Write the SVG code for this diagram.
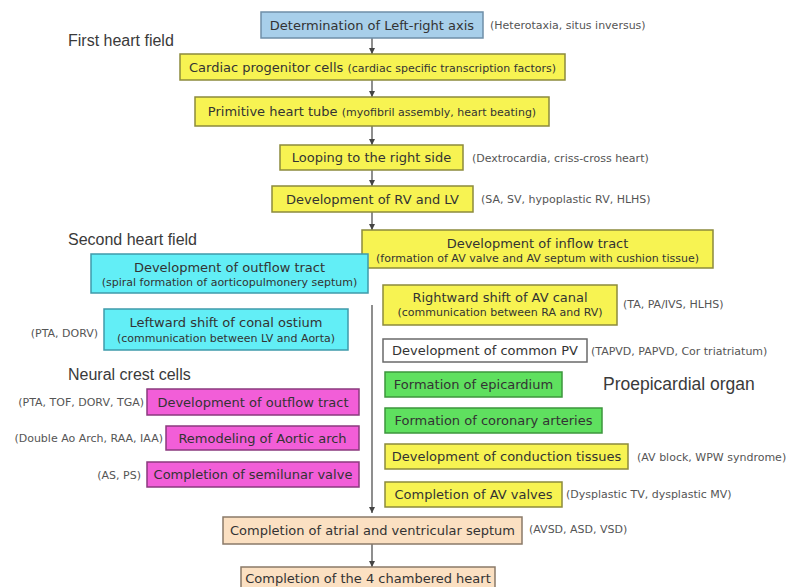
<svg xmlns="http://www.w3.org/2000/svg" width="788" height="587" viewBox="0 0 788 587">
<defs>
<style>
text{font-family:"DejaVu Sans","Liberation Sans",sans-serif;fill:#333}
.b{stroke-width:1.5}
.blue{fill:#a8cfea;stroke:#6f8fa8}
.yel{fill:#f7f352;stroke:#8c8a3c}
.cyan{fill:#62eef6;stroke:#3f9aaa}
.mag{fill:#f25ed8;stroke:#8a3a7e}
.grn{fill:#5fe05f;stroke:#3c963c}
.wht{fill:#ffffff;stroke:#6a6a6a}
.pch{fill:#fbe0c2;stroke:#8a7a68}
.m{font-size:13px;text-anchor:middle}
.s{font-size:11px}
.sm{font-size:11px}
.side{font-size:11px;fill:#555}
.h{font-family:"Liberation Sans",Arial,sans-serif;font-size:16px;fill:#3a3a3a}
.c{stroke:#444;stroke-width:1.2;fill:none}
</style>
<marker id="ah" markerUnits="userSpaceOnUse" markerWidth="6" markerHeight="6" refX="6" refY="3" orient="auto">
<path d="M0,0 L6,3 L0,6 z" fill="#444"/>
</marker>
</defs>
<rect width="788" height="587" fill="#ffffff"/>

<g id="labels">
<text class="h" x="68" y="46">First heart field</text>
<text class="h" x="68" y="245">Second heart field</text>
<text class="h" x="68" y="380">Neural crest cells</text>
<text class="h" x="603" y="390" style="font-size:17.5px">Proepicardial organ</text>
</g>

<g id="connectors">
<line class="c" x1="372" y1="38" x2="372" y2="54" marker-end="url(#ah)"/>
<line class="c" x1="372" y1="80" x2="372" y2="97" marker-end="url(#ah)"/>
<line class="c" x1="372" y1="126" x2="372" y2="145" marker-end="url(#ah)"/>
<line class="c" x1="372" y1="170" x2="372" y2="186" marker-end="url(#ah)"/>
<line class="c" x1="372" y1="212" x2="372" y2="230" marker-end="url(#ah)"/>
<line class="c" x1="372" y1="305" x2="372" y2="513" marker-end="url(#ah)"/>
<line class="c" x1="372" y1="544" x2="372" y2="567" marker-end="url(#ah)"/>
</g>

<g id="n-lr-axis">
<rect class="b blue" x="261" y="12" width="222" height="26"/>
<text class="m" x="372" y="29.5">Determination of Left-right axis</text>
<text class="side" x="490" y="29">(Heterotaxia, situs inversus)</text>
</g>

<g id="n-progenitor">
<rect class="b yel" x="180" y="54" width="385" height="26"/>
<text class="m" x="372.5" y="71.5">Cardiac progenitor cells <tspan class="sm">(cardiac specific transcription factors)</tspan></text>
</g>

<g id="n-tube">
<rect class="b yel" x="195" y="97" width="354" height="29"/>
<text class="m" x="372" y="116">Primitive heart tube <tspan class="sm">(myofibril assembly, heart beating)</tspan></text>
</g>

<g id="n-looping">
<rect class="b yel" x="280" y="145" width="183" height="25"/>
<text class="m" x="371.5" y="162">Looping to the right side</text>
<text class="side" x="472" y="161.5">(Dextrocardia, criss-cross heart)</text>
</g>

<g id="n-rvlv">
<rect class="b yel" x="272" y="186" width="201" height="26"/>
<text class="m" x="372.5" y="203.5">Development of RV and LV</text>
<text class="side" x="481" y="203">(SA, SV, hypoplastic RV, HLHS)</text>
</g>

<g id="n-inflow">
<rect class="b yel" x="362" y="230" width="351" height="38"/>
<text class="m" x="537.5" y="248">Development of inflow tract</text>
<text class="m s" x="537.5" y="262">(formation of AV valve and AV septum with cushion tissue)</text>
</g>

<g id="n-outflow-shf">
<rect class="b cyan" x="91" y="254" width="277" height="39"/>
<text class="m" x="229.5" y="272">Development of outflow tract</text>
<text class="m s" x="229.5" y="286">(spiral formation of aorticopulmonery septum)</text>
</g>

<g id="n-conal">
<rect class="b cyan" x="104" y="309" width="244" height="41"/>
<text class="m" x="226" y="327">Leftward shift of conal ostium</text>
<text class="m s" x="226" y="342">(communication between LV and Aorta)</text>
<text class="side" x="98" y="337" text-anchor="end">(PTA, DORV)</text>
</g>

<g id="n-avcanal">
<rect class="b yel" x="383" y="285" width="234" height="40"/>
<text class="m" x="500" y="302">Rightward shift of AV canal</text>
<text class="m s" x="500" y="316">(communication between RA and RV)</text>
<text class="side" x="623" y="308">(TA, PA/IVS, HLHS)</text>
</g>

<g id="n-pv">
<rect class="b wht" x="383" y="339" width="204" height="23"/>
<text class="m" x="485" y="355">Development of common PV</text>
<text class="side" x="591" y="355">(TAPVD, PAPVD, Cor triatriatum)</text>
</g>

<g id="n-epicardium">
<rect class="b grn" x="385" y="372" width="177" height="25"/>
<text class="m" x="473.5" y="389">Formation of epicardium</text>
</g>

<g id="n-coronary">
<rect class="b grn" x="385" y="408" width="217" height="25"/>
<text class="m" x="493.5" y="425">Formation of coronary arteries</text>
</g>

<g id="n-conduction">
<rect class="b yel" x="385" y="444" width="243" height="25"/>
<text class="m" x="506.5" y="461">Development of conduction tissues</text>
<text class="side" x="637" y="461">(AV block, WPW syndrome)</text>
</g>

<g id="n-avvalves">
<rect class="b yel" x="385" y="482" width="177" height="25"/>
<text class="m" x="473.5" y="499">Completion of AV valves</text>
<text class="side" x="566" y="498">(Dysplastic TV, dysplastic MV)</text>
</g>

<g id="n-outflow-ncc">
<rect class="b mag" x="147" y="389" width="212" height="26"/>
<text class="m" x="253" y="406.5">Development of outflow tract</text>
<text class="side" x="144" y="406" text-anchor="end">(PTA, TOF, DORV, TGA)</text>
</g>

<g id="n-arch">
<rect class="b mag" x="166" y="426" width="193" height="24"/>
<text class="m" x="262.5" y="442.5">Remodeling of Aortic arch</text>
<text class="side" x="163" y="442" text-anchor="end">(Double Ao Arch, RAA, IAA)</text>
</g>

<g id="n-semilunar">
<rect class="b mag" x="147" y="462" width="212" height="25"/>
<text class="m" x="253" y="479">Completion of semilunar valve</text>
<text class="side" x="141" y="479" text-anchor="end">(AS, PS)</text>
</g>

<g id="n-septum">
<rect class="b pch" x="223" y="517" width="299" height="27"/>
<text class="m" x="372.5" y="535">Completion of atrial and ventricular septum</text>
<text class="side" x="529" y="533">(AVSD, ASD, VSD)</text>
</g>

<g id="n-final">
<rect class="b pch" x="241" y="567" width="254" height="26"/>
<text class="m" x="368" y="583">Completion of the 4 chambered heart</text>
</g>
</svg>
